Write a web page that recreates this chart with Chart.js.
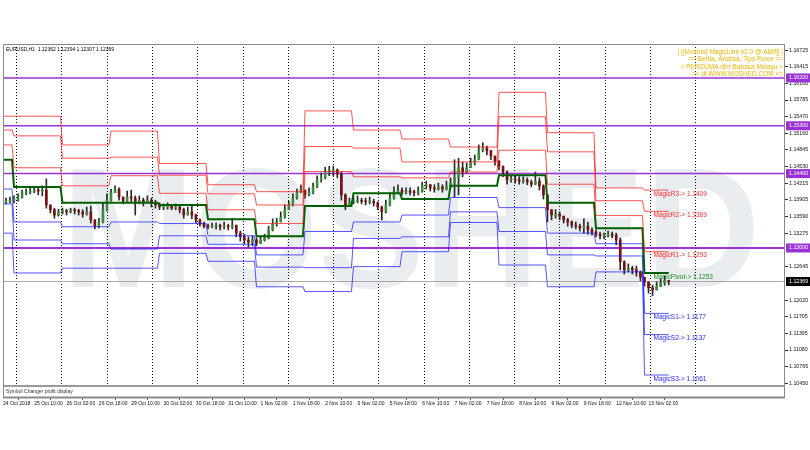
<!DOCTYPE html>
<html>
<head>
<meta charset="utf-8">
<title>EURUSD H1 - Moshed MagicLine</title>
<script src="https://cdn.jsdelivr.net/npm/chart.js@4.4.0/dist/chart.umd.min.js"></script>
<style>
  body { margin: 0; background: #fff; }
  canvas { display: block; }
</style>
</head>
<body>
<canvas id="chart" width="810" height="450"></canvas>
<script>
// price, one candle per 2 hours
const closes = [
  1.1388,1.1390,1.1392,1.1396,1.1404,1.1405,1.1407,1.1409,1.1407,1.1409,
  1.1381,1.1372,1.1362,1.1368,1.1370,1.1368,1.1372,1.1370,1.1368,1.1364,
  1.1368,1.1353,1.1341,1.1349,1.1372,1.1390,1.1404,1.1411,1.1396,1.1388,
  1.1396,1.1394,1.1385,1.1390,1.1387,1.1390,1.1385,1.1381,1.1377,1.1377,
  1.1379,1.1375,1.1377,1.1372,1.1362,1.1368,1.1362,1.1353,1.1345,1.1341,
  1.1340,1.1341,1.1341,1.1340,1.1341,1.1340,1.1343,1.1328,1.1321,1.1315,
  1.1311,1.1315,1.1309,1.1315,1.1319,1.1334,1.1345,1.1349,1.1358,1.1372,
  1.1381,1.1394,1.1404,1.1409,1.1400,1.1404,1.1415,1.1428,1.1432,1.1443,
  1.1445,1.1447,1.1439,1.1400,1.1381,1.1387,1.1388,1.1390,1.1388,1.1387,
  1.1388,1.1385,1.1377,1.1368,1.1381,1.1394,1.1405,1.1409,1.1405,1.1407,
  1.1405,1.1404,1.1407,1.1417,1.1419,1.1413,1.1411,1.1415,1.1411,1.1417,
  1.1422,1.1432,1.1451,1.1443,1.1451,1.1460,1.1466,1.1484,1.1488,1.1483,
  1.1473,1.1464,1.1454,1.1443,1.1428,1.1430,1.1428,1.1426,1.1428,1.1424,
  1.1420,1.1426,1.1417,1.1400,1.1372,1.1362,1.1364,1.1360,1.1353,1.1349,
  1.1343,1.1341,1.1338,1.1341,1.1334,1.1330,1.1326,1.1323,1.1323,1.1326,
  1.1324,1.1315,1.1274,1.1259,1.1262,1.1259,1.1255,1.1245,1.1236,1.1225,
  1.1221,1.1228,1.1234,1.1238,1.1237
];
const highs = [
  1.1394,1.1396,1.1398,1.1402,1.1409,1.1411,1.1413,1.1415,1.1413,1.1417,
  1.1430,1.1381,1.1375,1.1373,1.1375,1.1373,1.1375,1.1375,1.1373,1.1372,
  1.1377,1.1379,1.1353,1.1356,1.1385,1.1402,1.1411,1.1417,1.1413,1.1396,
  1.1407,1.1409,1.1398,1.1398,1.1394,1.1398,1.1394,1.1390,1.1385,1.1383,
  1.1385,1.1381,1.1383,1.1381,1.1375,1.1377,1.1379,1.1364,1.1355,1.1349,
  1.1345,1.1347,1.1347,1.1345,1.1349,1.1345,1.1356,1.1343,1.1332,1.1326,
  1.1321,1.1323,1.1319,1.1323,1.1326,1.1341,1.1355,1.1356,1.1368,1.1381,
  1.1388,1.1402,1.1411,1.1419,1.1409,1.1413,1.1422,1.1436,1.1441,1.1452,
  1.1454,1.1454,1.1449,1.1443,1.1402,1.1394,1.1396,1.1398,1.1394,1.1394,
  1.1396,1.1392,1.1387,1.1379,1.1390,1.1404,1.1415,1.1419,1.1413,1.1413,
  1.1413,1.1409,1.1415,1.1424,1.1426,1.1420,1.1419,1.1422,1.1419,1.1426,
  1.1432,1.1466,1.1469,1.1462,1.1460,1.1469,1.1475,1.1494,1.1498,1.1492,
  1.1484,1.1473,1.1464,1.1454,1.1445,1.1437,1.1436,1.1434,1.1434,1.1432,
  1.1428,1.1443,1.1432,1.1419,1.1400,1.1372,1.1372,1.1368,1.1360,1.1356,
  1.1351,1.1349,1.1345,1.1355,1.1349,1.1338,1.1334,1.1330,1.1328,1.1332,
  1.1330,1.1328,1.1319,1.1276,1.1270,1.1266,1.1266,1.1257,1.1245,1.1236,
  1.1230,1.1236,1.1242,1.1247,1.1239
];
const lows = [
  1.1383,1.1385,1.1385,1.1388,1.1394,1.1400,1.1402,1.1404,1.1400,1.1398,
  1.1375,1.1366,1.1356,1.1360,1.1364,1.1362,1.1366,1.1364,1.1362,1.1358,
  1.1362,1.1347,1.1336,1.1338,1.1347,1.1370,1.1388,1.1404,1.1390,1.1383,
  1.1386,1.1387,1.1362,1.1383,1.1379,1.1385,1.1377,1.1375,1.1372,1.1372,
  1.1373,1.1372,1.1372,1.1366,1.1356,1.1362,1.1355,1.1347,1.1341,1.1338,
  1.1336,1.1338,1.1336,1.1334,1.1336,1.1334,1.1336,1.1321,1.1313,1.1308,
  1.1302,1.1304,1.1304,1.1308,1.1313,1.1317,1.1332,1.1341,1.1349,1.1356,
  1.1372,1.1379,1.1392,1.1404,1.1394,1.1398,1.1402,1.1413,1.1424,1.1430,
  1.1436,1.1436,1.1432,1.1390,1.1372,1.1379,1.1383,1.1385,1.1383,1.1381,
  1.1383,1.1379,1.1372,1.1353,1.1366,1.1379,1.1392,1.1404,1.1400,1.1402,
  1.1400,1.1398,1.1400,1.1405,1.1411,1.1407,1.1405,1.1409,1.1405,1.1409,
  1.1413,1.1396,1.1400,1.1434,1.1441,1.1451,1.1456,1.1466,1.1481,1.1475,
  1.1466,1.1456,1.1447,1.1434,1.1420,1.1424,1.1422,1.1420,1.1422,1.1419,
  1.1415,1.1419,1.1409,1.1392,1.1349,1.1353,1.1356,1.1353,1.1347,1.1341,
  1.1338,1.1336,1.1332,1.1328,1.1326,1.1324,1.1321,1.1317,1.1317,1.1321,
  1.1319,1.1306,1.1259,1.1251,1.1255,1.1251,1.1247,1.1238,1.1228,1.1215,
  1.1210,1.1221,1.1227,1.1230,1.1231
];
const firstOpen = 1.1385;

// daily MagicLine levels, one value per trading day (24 Oct .. 13 Nov)
const r3    = [1.1548,1.1548,1.1494,1.1520,1.1459,1.1419,1.1406,1.1558,1.1522,1.1505,1.1490,1.1593,1.1517,1.1413,1.1409];
const r2    = [1.1522,1.1511,1.1469,1.1471,1.1437,1.1402,1.1381,1.1491,1.1488,1.1462,1.1462,1.1547,1.1481,1.1389,1.1369];
const r1    = [1.1494,1.1451,1.1417,1.1436,1.1403,1.1372,1.1346,1.1444,1.1434,1.1432,1.1443,1.1484,1.1420,1.1361,1.1293];
const pivot = [1.1466,1.1415,1.1385,1.1385,1.1381,1.1354,1.1322,1.1379,1.1403,1.1392,1.1417,1.1437,1.1385,1.1337,1.1253];
const s1    = [1.1411,1.1349,1.1340,1.1349,1.1346,1.1323,1.1287,1.1331,1.1349,1.1362,1.1395,1.1376,1.1328,1.1308,1.1177];
const s2    = [1.1383,1.1315,1.1308,1.1298,1.1323,1.1307,1.1264,1.1263,1.1318,1.1321,1.1368,1.1331,1.1287,1.1285,1.1137];
const s3    = [1.1328,1.1253,1.1262,1.1262,1.1290,1.1275,1.1227,1.1218,1.1265,1.1293,1.1348,1.1268,1.1227,1.1255,1.1061];

// hours counted from 25 Oct 00:00 (trading hours only)
const dayStarts = [-5, 0, 24, 48, 72, 96, 120, 144, 168, 192, 216, 240, 264, 288, 312];
const separatorHours = [0, 24, 48, 72, 96, 120, 144, 168, 192, 216, 240, 264, 288, 312, 336];

const levelLines = [1.162, 1.153, 1.144, 1.130];
const lastPrice = 1.12369;

const xTickHours = [-5.4, 10, 26, 42, 58, 74, 90, 106, 122, 138, 154, 170, 186, 202, 218, 234, 250, 266, 282, 298, 314];
const xTickLabels = ['24 Oct 2018','25 Oct 10:00','26 Oct 02:00','26 Oct 18:00','29 Oct 10:00','30 Oct 02:00',
  '30 Oct 18:00','31 Oct 10:00','1 Nov 02:00','1 Nov 18:00','2 Nov 10:00','5 Nov 02:00','5 Nov 18:00',
  '6 Nov 10:00','7 Nov 02:00','7 Nov 18:00','8 Nov 10:00','9 Nov 02:00','9 Nov 18:00','12 Nov 10:00','13 Nov 02:00'];
const yTickLabels = ['1.16725','1.16415','1.16100','1.15785','1.15470','1.15160','1.14845','1.14530','1.14215',
  '1.13905','1.13590','1.13275','1.12645','1.12020','1.11705','1.11395','1.11080','1.10765','1.10450'];

const X_MIN = -5.443, X_MAX = 381.53;
const Y_MIN = 1.10196, Y_MAX = 1.16839;
const FONT = '"Liberation Sans", Arial, sans-serif';

const candleHour = (i) => -4 + 2 * i;
const lastHour = candleHour(closes.length - 1);
const opens = closes.map((c, i) => (i === 0 ? firstOpen : closes[i - 1]));

function stepPoints(vals) {
  const pts = [];
  vals.forEach((v, d) => {
    const from = d === 0 ? X_MIN : dayStarts[d];
    const to = d < vals.length - 1 ? dayStarts[d + 1] - 1 : lastHour;
    pts.push({ x: from, y: v }, { x: to, y: v });
  });
  return pts;
}

function magicLine(label, vals, color, width) {
  return {
    type: 'line', label, data: stepPoints(vals), borderColor: color,
    borderWidth: width, pointRadius: 0, tension: 0, order: 0
  };
}

const RED = 'rgba(250,30,30,0.75)';
const BLUE = 'rgba(30,30,245,0.75)';

const datasets = [
  magicLine('R3', r3, RED, 1),
  magicLine('R2', r2, RED, 1),
  magicLine('R1', r1, RED, 1),
  magicLine('Pivot', pivot, '#006000', 2),
  magicLine('S1', s1, BLUE, 1),
  magicLine('S2', s2, BLUE, 1),
  magicLine('S3', s3, BLUE, 1),
  {
    type: 'bar', label: 'wick', order: 2, grouped: false, barThickness: 1,
    data: closes.map((c, i) => ({ x: candleHour(i), y: [lows[i], highs[i]] })),
    backgroundColor: '#2a2a2a'
  },
  {
    type: 'bar', label: 'body', order: 1, grouped: false, barThickness: 2, minBarLength: 1,
    data: closes.map((c, i) => ({ x: candleHour(i), y: [opens[i], c] })),
    backgroundColor: closes.map((c, i) => (c >= opens[i] ? '#3c8f3c' : '#7a1010'))
  }
];

levelLines.forEach((v) => {
  datasets.push({
    type: 'line', label: 'level', data: [{ x: X_MIN, y: v }, { x: X_MAX, y: v }],
    borderColor: '#9a32d6', borderWidth: v === 1.13 ? 2 : 1.5, pointRadius: 0, order: 3
  });
});
datasets.push({
  type: 'line', label: 'price', data: [{ x: X_MIN, y: lastPrice }, { x: X_MAX, y: lastPrice }],
  borderColor: '#a8a8a8', borderWidth: 1, pointRadius: 0, order: 3
});

const background = {
  id: 'background',
  beforeDraw(chart) {
    const ctx = chart.ctx;
    ctx.save();
    ctx.fillStyle = '#fff';
    ctx.fillRect(0, 0, chart.width, chart.height);
    ctx.font = 'bold 170px ' + FONT;
    const w = ctx.measureText('MOSHED').width;
    ctx.translate(62, 287);
    ctx.scale(698 / w, 1);
    ctx.fillStyle = '#eaedf0';
    ctx.textBaseline = 'alphabetic';
    ctx.fillText('MOSHED', 0, 0);
    ctx.restore();
  }
};

const overlay = {
  id: 'overlay',
  afterDatasetsDraw(chart) {
    const ctx = chart.ctx;
    const xs = chart.scales.x, ys = chart.scales.y;
    const x0 = xs.getPixelForValue(dayStarts[dayStarts.length - 1]) + 9;
    const tags = [
      ['MagicR3-> ', r3, '#ff2a2a'], ['MagicR2-> ', r2, '#ff2a2a'], ['MagicR1-> ', r1, '#ff2a2a'],
      ['MagicPivot-> ', pivot, '#1f8a1f'],
      ['MagicS1-> ', s1, '#2a2aff'], ['MagicS2-> ', s2, '#2a2aff'], ['MagicS3-> ', s3, '#2a2aff']
    ];
    ctx.save();
    ctx.font = '6.5px ' + FONT;
    ctx.textBaseline = 'top';
    tags.forEach(([name, vals, color]) => {
      const v = vals[vals.length - 1];
      ctx.fillStyle = color;
      ctx.fillText(name + v.toFixed(4), x0, ys.getPixelForValue(v) + 0.5);
    });
    ctx.restore();
  },
  afterDraw(chart) {
    const ctx = chart.ctx;
    const a = chart.chartArea;
    const ys = chart.scales.y;
    ctx.save();
    // status strip
    ctx.fillStyle = '#fff';
    ctx.fillRect(a.left, a.bottom - 11, a.right - a.left, 11);
    ctx.strokeStyle = '#9a9a9a';
    ctx.lineWidth = 2;
    ctx.beginPath();
    ctx.moveTo(a.left, a.bottom - 11);
    ctx.lineTo(a.right, a.bottom - 11);
    ctx.stroke();
    ctx.fillStyle = '#333';
    ctx.font = '5px ' + FONT;
    ctx.textBaseline = 'middle';
    ctx.fillText('Symbol Changer profit display', a.left + 3, a.bottom - 5.5);
    // frame
    ctx.strokeStyle = '#8a8a8a';
    ctx.lineWidth = 1;
    ctx.strokeRect(a.left + 0.5, a.top + 0.5, a.right - a.left - 1, a.bottom - a.top);
    ctx.lineWidth = 2;
    ctx.beginPath();
    ctx.moveTo(a.left, a.bottom + 0.5);
    ctx.lineTo(a.right, a.bottom + 0.5);
    ctx.stroke();
    // header
    ctx.fillStyle = '#000';
    ctx.font = '5px ' + FONT;
    ctx.fillText('EURUSD,H1  1.12362 1.12394 1.12307 1.12369', a.left + 3, a.top + 6);
    // comment block
    ctx.fillStyle = '#f0b400';
    ctx.font = '6.5px ' + FONT;
    ctx.textAlign = 'right';
    ['| |[Moshed MagicLine v2.0 @ Aktif]| |', '== Berita, Analisa, Tips Forex ==',
     '= PERCUMA dlm Bahasa Melayu =', '=> di WWW.MOSHED.COM <='].forEach((t, i) => {
      ctx.fillText(t, a.right - 2, a.top + 8 + i * 7.5);
    });
    // price boxes on the axis
    ctx.textAlign = 'left';
    ctx.font = '5.3px ' + FONT;
    const box = (v, fill) => {
      const y = ys.getPixelForValue(v);
      ctx.fillStyle = fill;
      ctx.fillRect(a.right + 1, y - 4.5, 24, 9);
      ctx.fillStyle = '#fff';
      ctx.fillText(v.toFixed(5), a.right + 4, y);
    };
    levelLines.forEach((v) => box(v, '#9a32d6'));
    box(lastPrice, '#000');
    ctx.restore();
  }
};

new Chart(document.getElementById('chart'), {
  type: 'bar',
  data: { datasets },
  plugins: [background, overlay],
  options: {
    responsive: false,
    animation: false,
    layout: { padding: { left: 3, top: 44, right: 0, bottom: 0 } },
    plugins: { legend: { display: false }, tooltip: { enabled: false } },
    scales: {
      x: {
        type: 'linear', position: 'bottom', min: X_MIN, max: X_MAX, offset: false,
        afterBuildTicks: (s) => { s.ticks = xTickHours.map((v) => ({ value: v })); },
        afterFit: (s) => { s.height = 53; },
        grid: { drawOnChartArea: false, drawTicks: true, tickLength: 3, color: '#555' },
        border: { display: false },
        ticks: {
          autoSkip: false, maxRotation: 0, align: 'start', padding: 1, color: '#111',
          font: { size: 5, family: FONT },
          callback: (v, i) => xTickLabels[i]
        }
      },
      x2: {
        type: 'linear', position: 'top', min: X_MIN, max: X_MAX,
        afterBuildTicks: (s) => { s.ticks = separatorHours.map((v) => ({ value: v })); },
        afterFit: (s) => { s.height = 0; },
        grid: { color: '#111', lineWidth: 1, drawTicks: false },
        border: { display: false, dash: [1, 2] },
        ticks: { display: false }
      },
      y: {
        type: 'linear', position: 'right', min: Y_MIN, max: Y_MAX,
        afterBuildTicks: (s) => { s.ticks = yTickLabels.map((t) => ({ value: parseFloat(t) })); },
        afterFit: (s) => { s.width = 25; },
        grid: { drawOnChartArea: false, drawTicks: true, tickLength: 3, color: '#333' },
        border: { display: false },
        ticks: {
          padding: 1, color: '#111', font: { size: 5.3, family: FONT },
          callback: (v, i) => yTickLabels[i]
        }
      }
    }
  }
});
</script>
</body>
</html>
